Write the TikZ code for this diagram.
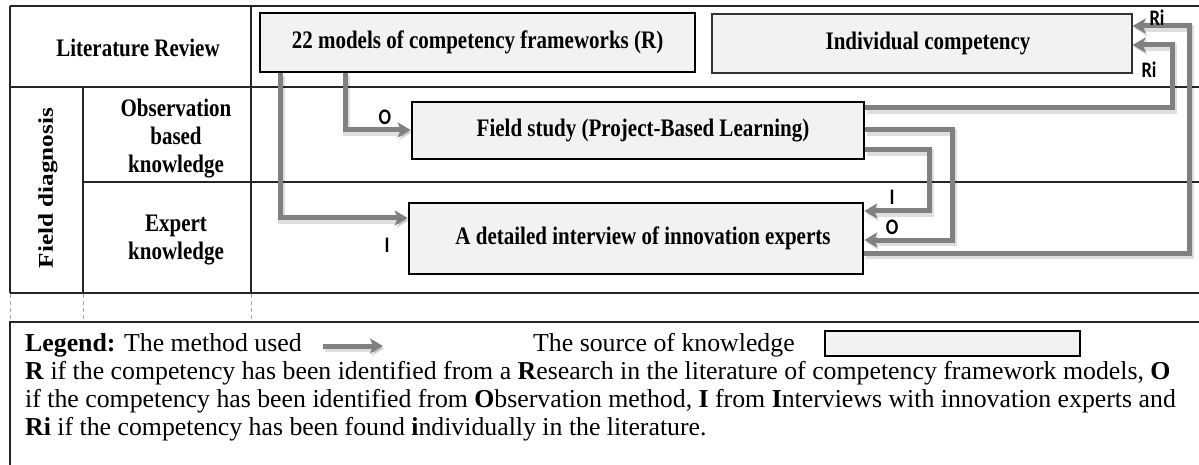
\documentclass[tikz,border=0pt]{standalone}
\usepackage{fontspec}
\usepackage{graphicx}
\setmainfont{Liberation Serif}
\newfontfamily\lblfont{Carlito}
\usetikzlibrary{arrows.meta}
\definecolor{boxfill}{HTML}{F2F2F2}
\definecolor{arrowgray}{HTML}{808080}
\definecolor{gridcol}{HTML}{262626}
\newcommand{\vst}[1]{\scalebox{1}[1.2]{#1}}
\begin{document}
\begin{tikzpicture}[x=1pt,y=-1pt,
  grid/.style={draw=gridcol, line width=1.4pt},
  gapline/.style={draw=black!35, line width=0.7pt, dash pattern=on 4pt off 3pt},
  srcbox/.style={draw=black, line width=2.6pt, fill=boxfill, inner sep=0pt,
    font=\fontsize{21}{25}\selectfont\bfseries},
  thinbox/.style={draw=black!80, line width=1.3pt, fill=boxfill, inner sep=0pt,
    font=\fontsize{21}{25}\selectfont\bfseries},
  hdr/.style={inner sep=0pt, font=\fontsize{21}{28}\selectfont\bfseries},
  lbl/.style={inner sep=0pt, font=\lblfont\bfseries\fontsize{18.5}{20}\selectfont},
  leg/.style={inner sep=0pt, anchor=base west, font=\fontsize{25.8}{28}\selectfont},
  flow/.style={draw=arrowgray, line width=5pt,
    -{Stealth[length=13pt,width=15pt,inset=3pt]},
    preaction={draw=black, opacity=0.13, line width=7pt,
      transform canvas={shift={(1.5pt,-2.5pt)}}}}
]
\useasboundingbox (0,0) rectangle (1199,465);
\fill[white] (0,0) rectangle (1199,465);

% table grid
\draw[grid] (10,6) -- (1199,6);
\draw[grid] (10,87) -- (1199,87);
\draw[grid] (83,182) -- (1199,182);
\draw[grid] (10,293) -- (1199,293);
\draw[grid] (10,6) -- (10,293);
\draw[grid] (83,87) -- (83,293);
\draw[grid] (251,6) -- (251,293);
\draw[gapline] (10,294) -- (10,322);
\draw[gapline] (83,294) -- (83,322);
\draw[gapline] (251,294) -- (251,322);
\draw[grid] (1199,322) -- (10,322) -- (10,465);

% row and column headers
\node[hdr] (litrev) at (138,48) {\vst{Literature Review}};
\node[hdr, rotate=90] (fdiag) at (48,188) {\scalebox{1.2}[1]{Field diagnosis}};
\node[hdr, align=center] (obs) at (176,139) {\vst{Observation}\\\vst{based}\\\vst{knowledge}};
\node[hdr, align=center] (expt) at (176,240) {\vst{Expert}\\\vst{knowledge}};

% sources of knowledge
\node[srcbox, minimum width=435, minimum height=59] (b1) at (477.5,42.5)
  {\vst{22 models of competency frameworks (R)}};
\node[thinbox, minimum width=420, minimum height=59] (b2) at (922,43.5)
  {\hspace*{12pt}\vst{Individual competency}};
\node[srcbox, minimum width=452, minimum height=57] (b3) at (638,130.5)
  {\hspace*{10pt}\vst{Field study (Project-Based Learning)}};
\node[srcbox, minimum width=454, minimum height=71] (b4) at (636,238.5)
  {\hspace*{14pt}\vst{A detailed interview of innovation experts}};

% bend points
\coordinate (k1) at (280,218);
\coordinate (k2) at (345,130);
\coordinate (k3) at (1172,108);
\coordinate (k3b) at (1172,45);
\coordinate (k4) at (1189,253);
\coordinate (k4b) at (1189,26);
\coordinate (k5) at (952,130);
\coordinate (k5b) at (952,240);
\coordinate (k6) at (929,150);
\coordinate (k6b) at (929,211);

% methods
\draw[flow] (b1.south -| k1) |- (b4.west |- k1);
\draw[flow] (b1.south -| k2) |- (b3.west |- k2);
\draw[flow] (b4.east |- k4) -- (k4) -- (k4b) -- (b2.east |- k4b);
\draw[flow] (b3.east |- k3) -- (k3) -- (k3b) -- (b2.east |- k3b);
\draw[flow] (b3.east |- k5) -- (k5) -- (k5b) -- (b4.east |- k5b);
\draw[flow] (b3.east |- k6) -- (k6) -- (k6b) -- (b4.east |- k6b);

% method labels
\node[lbl] (lO1) at (385,117) {\vst{O}};
\node[lbl] (lI1) at (387,245) {\vst{I}};
\node[lbl] (lRi1) at (1157,18) {\vst{Ri}};
\node[lbl] (lRi2) at (1149,70) {\vst{Ri}};
\node[lbl] (lI2) at (892,197) {\vst{I}};
\node[lbl] (lO2) at (892,227) {\vst{O}};

% legend
\node[leg] (leg1) at (25,351) {\textbf{Legend:} The method used};
\coordinate (la1) at (323,346);
\coordinate (la2) at (383,346);
\draw[flow] (la1) -- (la2);
\node[leg] (leg1b) at (533,351) {The source of knowledge};
\node[srcbox, minimum width=255, minimum height=25, line width=2pt] (legbox) at (952.5,343.5) {};
\node[leg] (leg2) at (25,379) {\textbf{R} if the competency has been identified from a \textbf{R}esearch in the literature of competency framework models, \textbf{O}};
\node[leg] (leg3) at (25,407) {if the competency has been identified from \textbf{O}bservation method, \textbf{I} from \textbf{I}nterviews with innovation experts and};
\node[leg] (leg4) at (25,435) {\textbf{Ri} if the competency has been found \textbf{i}ndividually in the literature.};
\end{tikzpicture}
\end{document}
